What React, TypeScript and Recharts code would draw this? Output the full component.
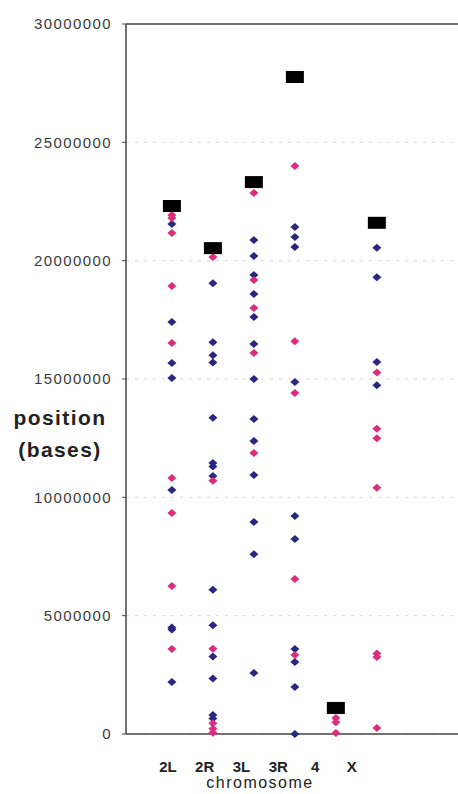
import React from "react";
import { CartesianGrid, ReferenceLine, Scatter, ScatterChart, XAxis, YAxis } from "recharts";

const chromosomes = ["2L", "2R", "3L", "3R", "4", "X"];

// chromosome length markers (millions of bases)
const chromosomeLengths = [22.31, 20.53, 23.32, 27.76, 1.1, 21.6];

// blue diamonds, per chromosome (millions of bases)
const bluePositions = [
  [21.55, 17.41, 15.68, 15.04, 10.31, 4.5, 4.42, 2.2],
  [19.05, 16.55, 16.0, 15.7, 13.36, 11.45, 11.3, 10.9, 6.1, 4.6, 3.27, 2.35, 0.8, 0.65],
  [20.87, 20.2, 19.39, 18.59, 17.62, 16.48, 15.0, 13.31, 12.38, 10.94, 8.96, 7.6, 2.58],
  [21.42, 21.0, 20.58, 14.87, 9.21, 8.24, 3.59, 3.04, 1.99, 0],
  [],
  [20.55, 19.3, 15.72, 14.74],
];

// pink diamonds, per chromosome (millions of bases)
const pinkPositions = [
  [21.93, 21.8, 21.17, 18.93, 16.52, 10.82, 9.34, 6.25, 3.59],
  [20.15, 10.7, 3.6, 0.45, 0.22, 0.05],
  [22.86, 19.18, 18.0, 16.1, 11.87],
  [24.0, 16.6, 14.41, 6.55, 3.34],
  [0.68, 0.5, 0.04],
  [15.27, 12.9, 12.5, 10.4, 3.4, 3.25, 0.25],
];

const yTicks = [0, 5000000, 10000000, 15000000, 20000000, 25000000, 30000000];

const BLUE = "#2b2680";
const PINK = "#dc2c7c";
const FONT = '"Liberation Sans", Arial, sans-serif';

const toPoints = (lists: number[][]) =>
  lists.flatMap((vals, i) => vals.map((v) => ({ x: i + 1, y: Math.round(v * 1e6) })));

const bluePoints = toPoints(bluePositions);
const pinkPoints = toPoints(pinkPositions);
const lengthPoints = chromosomeLengths.map((v, i) => ({ x: i + 1, y: Math.round(v * 1e6) }));

function Diamond(props: any) {
  const { cx, cy, fill } = props;
  return <path d={`M${cx},${cy - 4} L${cx + 4.5},${cy} L${cx},${cy + 4} L${cx - 4.5},${cy} Z`} fill={fill} />;
}

function LengthBar(props: any) {
  const { cx, cy } = props;
  return <rect x={cx - 9} y={cy - 6} width={18} height={12} fill="#000" />;
}

function ChromTick(props: any) {
  const { x, y, payload } = props;
  const i = payload.value - 1;
  return (
    <text x={x - 4 - 4.2 * i} y={y + 30} textAnchor="middle" fontFamily={FONT} fontSize={15} fontWeight="bold" fill="#222">
      {chromosomes[i]}
    </text>
  );
}

function PosTick(props: any) {
  const { x, y, payload } = props;
  return (
    <text x={x} y={y} dy="0.35em" textAnchor="end" fontFamily={FONT} fontSize={15} letterSpacing={1.4} fill="#3a3a3a">
      {String(payload.value)}
    </text>
  );
}

export default function App() {
  return (
    <div style={{ position: "absolute", left: 0, top: 0, width: 458, height: 794, background: "#fff" }}>
      <ScatterChart width={458} height={794} margin={{ top: 24, right: 0, bottom: 30, left: 0 }}>
        <CartesianGrid horizontal vertical={false} stroke="#dadada" strokeDasharray="3 6" />
        <XAxis
          type="number"
          dataKey="x"
          domain={[-0.12, 7.98]}
          ticks={[1, 2, 3, 4, 5, 6]}
          tick={<ChromTick />}
          tickLine={false}
          axisLine={{ stroke: "#444", strokeWidth: 1.5 }}
          height={30}
          allowDataOverflow
        />
        <YAxis
          type="number"
          dataKey="y"
          domain={[0, 30000000]}
          ticks={yTicks}
          tick={<PosTick />}
          tickSize={4}
          tickMargin={10}
          tickLine={{ stroke: "#444" }}
          axisLine={{ stroke: "#444", strokeWidth: 1.5 }}
          width={126}
        />
        <ReferenceLine y={30000000} stroke="#444" strokeWidth={1.5} />
        <Scatter data={bluePoints} fill={BLUE} shape={<Diamond />} isAnimationActive={false} />
        <Scatter data={pinkPoints} fill={PINK} shape={<Diamond />} isAnimationActive={false} />
        <Scatter data={lengthPoints} fill="#000" shape={<LengthBar />} isAnimationActive={false} />
      </ScatterChart>
      <div
        style={{
          position: "absolute",
          left: 0,
          top: 402,
          width: 120,
          textAlign: "center",
          fontFamily: FONT,
          fontWeight: "bold",
          fontSize: 21,
          letterSpacing: 1.4,
          lineHeight: "32px",
          color: "#222",
        }}
      >
        position
        <br />
        (bases)
      </div>
      <div
        style={{
          position: "absolute",
          left: 200,
          top: 775,
          width: 120,
          textAlign: "center",
          fontFamily: FONT,
          fontSize: 16,
          letterSpacing: 1.5,
          lineHeight: "16px",
          color: "#222",
        }}
      >
        chromosome
      </div>
    </div>
  );
}
